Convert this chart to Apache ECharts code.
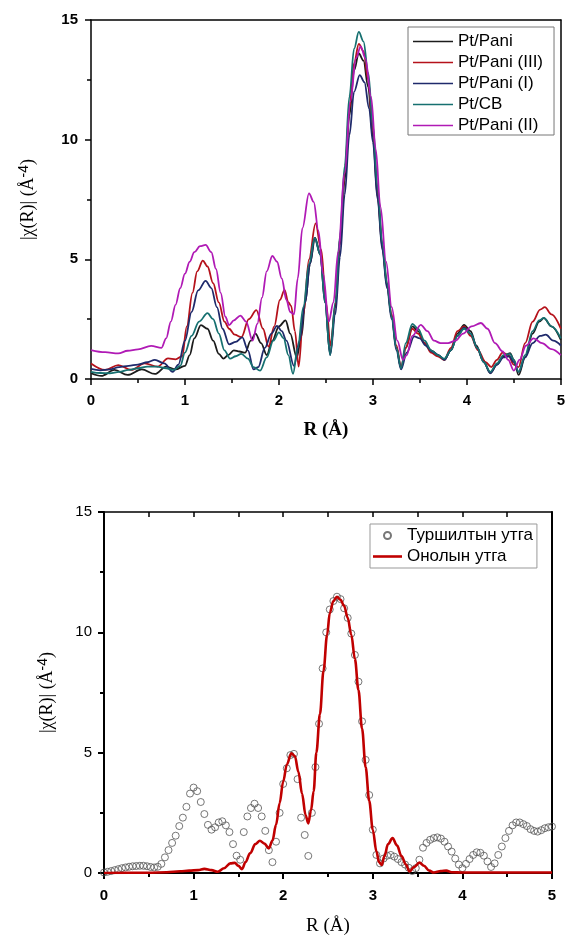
<!DOCTYPE html>
<html>
<head>
<meta charset="utf-8">
<script src="https://cdn.jsdelivr.net/npm/echarts@6/dist/echarts.min.js"></script>
<style>
html,body{margin:0;padding:0;background:#fff;}
#c{width:568px;height:938px;}
</style>
</head>
<body>
<div id="c"></div>
<script>
// ---- Top chart: |chi(R)| for five samples ----
const seriesNamesTop = ['Pt/Pani', 'Pt/Pani (III)', 'Pt/Pani (I)', 'Pt/CB', 'Pt/Pani (II)'];

const ptPani = [[0,0.24],[0.11,0.13],[0.25,0.38],[0.39,0.17],[0.54,0.4],[0.68,0.21],[0.8,0.52],[0.9,0.4],[1.0,0.55],[1.05,1.0],[1.1,1.7],[1.17,2.25],[1.24,2.1],[1.3,1.6],[1.36,1.05],[1.41,0.85],[1.46,1.0],[1.52,1.2],[1.58,1.15],[1.64,1.1],[1.7,1.6],[1.75,1.9],[1.81,1.5],[1.87,1.0],[1.93,1.6],[2.0,2.2],[2.07,2.45],[2.12,1.9],[2.19,0.9],[2.24,1.8],[2.28,3.2],[2.33,4.8],[2.385,5.9],[2.44,5.2],[2.49,3.3],[2.545,1.07],[2.6,3.0],[2.65,5.6],[2.7,8.3],[2.75,11.0],[2.8,12.9],[2.85,13.6],[2.9,13.3],[2.95,12.2],[3.0,10.1],[3.05,7.6],[3.1,5.5],[3.15,3.9],[3.2,2.6],[3.25,1.3],[3.3,0.45],[3.35,1.3],[3.42,2.2],[3.48,2.0],[3.55,1.5],[3.62,1.2],[3.69,1.0],[3.76,0.8],[3.83,1.2],[3.9,1.9],[3.97,2.26],[4.04,2.0],[4.1,1.4],[4.17,0.8],[4.25,0.24],[4.32,0.6],[4.39,0.95],[4.46,1.08],[4.5,0.8],[4.55,0.17],[4.62,0.9],[4.7,1.9],[4.77,2.4],[4.82,2.54],[4.9,2.2],[5.0,1.63]];

const ptPani3 = [[0,0.65],[0.15,0.38],[0.29,0.58],[0.43,0.38],[0.57,0.65],[0.71,0.52],[0.82,0.86],[0.9,0.82],[0.97,0.95],[1.02,2.2],[1.08,3.6],[1.13,4.5],[1.19,4.95],[1.24,4.7],[1.3,4.0],[1.36,3.2],[1.42,2.4],[1.47,2.1],[1.53,1.85],[1.6,1.75],[1.68,2.5],[1.76,2.88],[1.83,2.1],[1.89,1.35],[1.95,2.2],[2.01,3.3],[2.06,3.72],[2.1,3.2],[2.13,3.05],[2.17,2.0],[2.21,0.52],[2.26,2.7],[2.32,5.0],[2.39,6.5],[2.45,5.4],[2.5,3.2],[2.55,1.4],[2.6,3.1],[2.65,5.9],[2.7,8.6],[2.75,11.3],[2.8,13.2],[2.85,14.0],[2.9,13.7],[2.95,12.5],[3.0,10.4],[3.05,7.8],[3.1,5.6],[3.15,4.0],[3.2,2.7],[3.25,1.4],[3.3,0.5],[3.35,1.3],[3.42,2.1],[3.48,1.9],[3.55,1.5],[3.62,1.1],[3.69,0.95],[3.76,0.8],[3.83,1.3],[3.9,2.0],[3.97,2.2],[4.04,1.8],[4.12,1.2],[4.2,0.7],[4.26,0.5],[4.32,0.8],[4.38,1.1],[4.44,1.0],[4.5,0.6],[4.55,0.5],[4.62,1.5],[4.7,2.4],[4.78,2.9],[4.83,3.0],[4.9,2.7],[5.0,2.1]];

const ptPani1 = [[0,0.42],[0.1,0.36],[0.2,0.4],[0.3,0.5],[0.4,0.55],[0.5,0.6],[0.6,0.7],[0.68,0.8],[0.78,0.65],[0.87,0.3],[0.93,0.6],[1.0,1.6],[1.07,2.8],[1.14,3.7],[1.22,4.1],[1.28,3.8],[1.34,3.0],[1.4,2.1],[1.47,1.45],[1.54,1.55],[1.61,1.74],[1.67,1.2],[1.73,0.4],[1.78,0.5],[1.85,1.3],[1.92,1.9],[1.98,2.22],[2.03,2.0],[2.08,1.6],[2.16,0.55],[2.22,1.6],[2.28,3.2],[2.33,4.8],[2.38,5.9],[2.44,5.2],[2.49,3.2],[2.545,1.0],[2.6,2.7],[2.65,5.1],[2.7,7.7],[2.75,10.2],[2.8,12.0],[2.86,12.7],[2.91,12.4],[2.96,11.3],[3.0,9.9],[3.05,7.5],[3.1,5.4],[3.15,3.8],[3.2,2.5],[3.25,1.2],[3.3,0.4],[3.36,1.1],[3.44,1.78],[3.5,1.7],[3.56,1.4],[3.63,1.15],[3.7,1.0],[3.76,0.8],[3.83,1.2],[3.9,1.8],[3.97,2.15],[4.04,1.9],[4.11,1.3],[4.18,0.7],[4.25,0.25],[4.32,0.6],[4.39,0.9],[4.45,0.95],[4.5,0.7],[4.55,0.3],[4.62,0.9],[4.7,1.5],[4.78,1.8],[4.84,1.85],[4.92,1.6],[5.0,1.4]];

const ptCB = [[0,0.3],[0.1,0.25],[0.2,0.24],[0.3,0.3],[0.4,0.38],[0.5,0.45],[0.6,0.52],[0.7,0.52],[0.8,0.45],[0.88,0.38],[0.95,0.55],[1.0,1.1],[1.07,1.8],[1.15,2.4],[1.24,2.75],[1.3,2.5],[1.36,1.9],[1.42,1.2],[1.48,0.85],[1.54,0.95],[1.6,1.05],[1.67,0.85],[1.73,0.5],[1.8,0.35],[1.87,0.9],[1.94,1.6],[2.0,1.95],[2.05,1.7],[2.1,1.0],[2.15,0.22],[2.2,1.3],[2.26,3.0],[2.32,4.8],[2.38,5.9],[2.44,5.2],[2.49,3.2],[2.545,1.0],[2.6,3.2],[2.65,6.0],[2.7,8.9],[2.75,11.8],[2.8,13.8],[2.85,14.5],[2.9,14.1],[2.95,12.8],[3.0,10.6],[3.05,8.0],[3.1,5.7],[3.15,4.0],[3.2,2.6],[3.25,1.3],[3.3,0.45],[3.35,1.5],[3.42,2.3],[3.48,2.1],[3.55,1.6],[3.62,1.2],[3.69,1.0],[3.76,0.85],[3.83,1.2],[3.9,1.8],[3.97,2.1],[4.04,1.9],[4.11,1.3],[4.18,0.7],[4.25,0.3],[4.32,0.65],[4.39,1.0],[4.46,1.05],[4.5,0.8],[4.55,0.3],[4.62,1.0],[4.7,2.0],[4.77,2.45],[4.82,2.55],[4.9,2.2],[5.0,1.7]];

const ptPani2 = [[0,1.21],[0.15,1.12],[0.29,1.07],[0.39,1.18],[0.5,1.24],[0.64,1.38],[0.75,1.3],[0.8,1.7],[0.85,2.4],[0.9,3.1],[0.95,3.8],[1.0,4.4],[1.05,4.9],[1.1,5.3],[1.16,5.55],[1.22,5.6],[1.28,5.3],[1.33,4.6],[1.38,3.6],[1.43,2.6],[1.47,2.25],[1.52,2.45],[1.59,2.65],[1.65,2.4],[1.72,1.6],[1.77,2.3],[1.82,3.4],[1.87,4.5],[1.93,5.14],[1.98,4.9],[2.03,4.2],[2.08,3.3],[2.12,2.8],[2.16,2.7],[2.2,4.2],[2.25,6.3],[2.32,7.76],[2.37,7.4],[2.42,6.2],[2.47,4.4],[2.53,2.4],[2.58,3.2],[2.63,5.3],[2.7,8.6],[2.76,11.6],[2.82,13.4],[2.87,13.9],[2.92,13.4],[2.98,11.8],[3.03,9.6],[3.08,7.2],[3.14,4.9],[3.2,3.0],[3.26,1.6],[3.32,0.8],[3.36,1.0],[3.42,1.8],[3.51,2.26],[3.58,2.0],[3.65,1.6],[3.72,1.5],[3.8,1.5],[3.88,1.6],[3.96,1.9],[4.05,2.2],[4.15,2.34],[4.22,2.1],[4.3,1.5],[4.38,1.15],[4.44,0.8],[4.5,0.35],[4.56,0.8],[4.63,1.4],[4.71,1.7],[4.8,1.5],[4.9,1.25],[5.0,1.0]];

const colorsTop = ['#1c1c1c', '#b5121b', '#1f2a6b', '#167070', '#b01ab5'];

// ---- Bottom chart: experiment vs theory ----
const seriesNamesBottom = ['Туршилтын утга', 'Онолын утга'];

const expR = [0.00,0.04,0.08,0.12,0.16,0.20,0.24,0.28,0.32,0.36,0.40,0.44,0.48,0.52,0.56,0.60,0.64,0.68,0.72,0.76,0.80,0.84,0.88,0.92,0.96,1.00,1.04,1.08,1.12,1.16,1.20,1.24,1.28,1.32,1.36,1.40,1.44,1.48,1.52,1.56,1.60,1.64,1.68,1.72,1.76,1.80,1.84,1.88,1.92,1.96,2.00,2.04,2.08,2.12,2.16,2.20,2.24,2.28,2.32,2.36,2.40,2.44,2.48,2.52,2.56,2.60,2.64,2.68,2.72,2.76,2.80,2.84,2.88,2.92,2.96,3.00,3.04,3.08,3.12,3.16,3.20,3.24,3.28,3.32,3.36,3.40,3.44,3.48,3.52,3.56,3.60,3.64,3.68,3.72,3.76,3.80,3.84,3.88,3.92,3.96,4.00,4.04,4.08,4.12,4.16,4.20,4.24,4.28,4.32,4.36,4.40,4.44,4.48,4.52,4.56,4.60,4.64,4.68,4.72,4.76,4.80,4.84,4.88,4.92,4.96,5.00];
const expChi = [0.02,0.05,0.08,0.12,0.16,0.2,0.23,0.26,0.28,0.29,0.3,0.3,0.28,0.25,0.23,0.26,0.38,0.65,0.95,1.25,1.55,1.95,2.3,2.75,3.3,3.55,3.4,2.95,2.45,2.0,1.8,1.9,2.1,2.15,1.98,1.7,1.2,0.72,0.55,1.7,2.35,2.7,2.88,2.7,2.35,1.75,0.95,0.45,1.3,2.5,3.7,4.35,4.9,4.95,3.9,2.3,1.58,0.71,2.5,4.4,6.2,8.5,10.0,10.95,11.3,11.48,11.38,11.0,10.6,9.95,9.06,7.95,6.3,4.7,3.24,1.8,0.75,0.4,0.6,0.72,0.75,0.68,0.58,0.45,0.35,0.22,0.08,0.2,0.55,1.05,1.25,1.38,1.45,1.48,1.43,1.3,1.1,0.89,0.6,0.35,0.2,0.38,0.58,0.75,0.86,0.84,0.72,0.48,0.25,0.4,0.75,1.1,1.45,1.75,1.98,2.1,2.1,2.03,1.95,1.82,1.75,1.72,1.78,1.86,1.9,1.93];

const fitData = [[0,0],[0.5,0.01],[0.7,0.03],[0.85,0.07],[0.95,0.1],[1.05,0.12],[1.12,0.17],[1.2,0.12],[1.27,0.05],[1.34,0.2],[1.41,0.4],[1.46,0.42],[1.5,0.3],[1.54,0.16],[1.58,0.45],[1.63,0.82],[1.69,1.2],[1.74,1.34],[1.79,1.22],[1.84,1.02],[1.88,1.35],[1.92,2.0],[1.96,2.9],[2.0,3.8],[2.04,4.5],[2.09,4.97],[2.13,4.86],[2.17,4.2],[2.21,3.3],[2.25,2.4],[2.28,2.06],[2.31,2.6],[2.34,3.4],[2.37,5.0],[2.41,6.6],[2.45,8.4],[2.49,9.9],[2.52,10.8],[2.56,11.3],[2.6,11.48],[2.64,11.35],[2.68,11.1],[2.72,10.6],[2.76,9.9],[2.8,8.9],[2.84,7.6],[2.88,6.0],[2.92,4.4],[2.96,3.0],[3.0,1.8],[3.04,0.9],[3.07,0.45],[3.1,0.33],[3.13,0.7],[3.17,1.2],[3.22,1.45],[3.27,1.15],[3.32,0.7],[3.37,0.35],[3.41,0.06],[3.46,0.25],[3.52,0.43],[3.57,0.3],[3.63,0.1],[3.68,0.02],[3.76,0.08],[3.82,0.1],[3.88,0.03],[4.0,0.02],[4.5,0.02],[5.0,0.02]];

const xTicks = [0, 1, 2, 3, 4, 5];
const yTicks = [0, 5, 10, 15];

const SANS = 'Liberation Sans, Arial, sans-serif';
const SERIF = 'Liberation Serif, Times New Roman, serif';

const expData = expR.map((r, i) => [r, expChi[i]]);

const yName = '{a||χ(R)| (Å}{b|-4}{a|)}';
const yNameRich = {
  a: { fontFamily: SERIF, fontSize: 18, color: '#000', lineHeight: 22 },
  b: { fontFamily: SANS, fontSize: 14, color: '#000', verticalAlign: 'top', lineHeight: 14 }
};

function xAxisMain(grid, bold, labelMargin, nameGap, lw, nameBold) {
  return {
    type: 'value', gridIndex: grid, min: xTicks[0], max: xTicks[xTicks.length - 1], interval: 1,
    position: 'bottom',
    axisLine: { onZero: false, lineStyle: { color: '#000', width: lw } },
    axisTick: { show: true, inside: false, length: 6, lineStyle: { color: '#000', width: lw } },
    minorTick: { show: true, splitNumber: 2, length: 4, lineStyle: { color: '#000', width: lw } },
    splitLine: { show: false },
    axisLabel: { color: '#000', fontFamily: SANS, fontSize: 15, fontWeight: bold ? 'bold' : 'normal', margin: labelMargin },
    name: 'R (Å)', nameLocation: 'middle', nameGap: nameGap,
    nameTextStyle: { fontFamily: SERIF, fontSize: 19, fontWeight: nameBold ? 'bold' : 'normal', color: '#000' }
  };
}
function yAxisMain(grid, bold, labelMargin, nameGap, lw) {
  return {
    type: 'value', gridIndex: grid, min: yTicks[0], max: yTicks[yTicks.length - 1], interval: 5,
    position: 'left',
    axisLine: { onZero: false, lineStyle: { color: '#000', width: lw } },
    axisTick: { show: true, inside: false, length: 6, lineStyle: { color: '#000', width: lw } },
    minorTick: { show: true, splitNumber: 2, length: 4, lineStyle: { color: '#000', width: lw } },
    splitLine: { show: false },
    axisLabel: { color: '#000', fontFamily: SANS, fontSize: 15, fontWeight: bold ? 'bold' : 'normal', margin: labelMargin },
    name: yName, nameLocation: 'middle', nameGap: nameGap, nameRotate: 90,
    nameTextStyle: { rich: yNameRich }
  };
}

const chart = echarts.init(document.getElementById('c'), null, { renderer: 'canvas' });

const topSeries = [ptPani, ptPani3, ptPani1, ptCB, ptPani2].map((d, i) => ({
  name: seriesNamesTop[i], type: 'line', xAxisIndex: 0, yAxisIndex: 0,
  data: d, smooth: 0.35, smoothMonotone: 'x', symbol: 'none',
  lineStyle: { color: colorsTop[i], width: 1.8 }, itemStyle: { color: colorsTop[i] }
}));

const lineIcon = 'path://M0,0h40v1.6h-40z';

chart.setOption({
  animation: false,
  backgroundColor: '#fff',
  grid: [
    { left: 91, top: 20, width: 473, height: 359 },
    { left: 104, top: 512, width: 448, height: 361 }
  ],
  xAxis: [
    xAxisMain(0, true, 14, 42, 1.5, true),
    { type: 'value', gridIndex: 0, position: 'top', min: 0, max: 5, interval: 1,
      axisLine: { onZero: false, lineStyle: { color: '#000', width: 1.5 } },
      axisTick: { show: false }, axisLabel: { show: false }, splitLine: { show: false } },
    xAxisMain(1, true, 15, 44, 2, false),
    { type: 'value', gridIndex: 1, position: 'top', min: 0, max: 5, interval: 0.5,
      axisLine: { onZero: false, lineStyle: { color: '#000', width: 1.5 } },
      axisTick: { show: true, inside: true, length: 5, lineStyle: { color: '#000', width: 1.5 } },
      axisLabel: { show: false }, splitLine: { show: false } }
  ],
  yAxis: [
    yAxisMain(0, true, 13, 52, 1.5),
    { type: 'value', gridIndex: 0, position: 'right', min: 0, max: 15,
      axisLine: { show: true, onZero: false, lineStyle: { color: '#000', width: 1.5 } },
      axisTick: { show: false }, axisLabel: { show: false }, splitLine: { show: false } },
    yAxisMain(1, false, 12, 46, 2),
    { type: 'value', gridIndex: 1, position: 'right', min: 0, max: 15,
      axisLine: { show: true, onZero: false, lineStyle: { color: '#000', width: 2 } },
      axisTick: { show: false }, axisLabel: { show: false }, splitLine: { show: false } }
  ],
  legend: [
    {
      data: seriesNamesTop.map(n => ({ name: n, icon: lineIcon })),
      orient: 'vertical', left: 408, top: 27,
      itemWidth: 40, itemHeight: 14, itemGap: 4, symbolKeepAspect: true,
      padding: [6, 11, 1, 5], borderColor: '#777', borderWidth: 1, borderRadius: 0,
      backgroundColor: '#fff',
      textStyle: { fontFamily: SANS, fontSize: 17, color: '#000' }
    },
    {
      data: [
        { name: seriesNamesBottom[0], icon: 'circle' },
        { name: seriesNamesBottom[1], icon: 'path://M0,0h29v2.6h-29z' }
      ],
      orient: 'vertical', left: 370, top: 524,
      itemWidth: 29, itemHeight: 7, itemGap: 4, symbolKeepAspect: true,
      padding: [3, 4, 3, 3], borderColor: '#999', borderWidth: 1, borderRadius: 0,
      backgroundColor: '#fff',
      textStyle: { fontFamily: SANS, fontSize: 17, color: '#000' }
    }
  ],
  series: topSeries.concat([
    {
      name: seriesNamesBottom[0], type: 'scatter', xAxisIndex: 2, yAxisIndex: 2,
      data: expData, symbol: 'circle', symbolSize: 7,
      itemStyle: { color: 'rgba(255,255,255,0)', borderColor: '#555', borderWidth: 1 },
      z: 2
    },
    {
      name: seriesNamesBottom[1], type: 'line', xAxisIndex: 2, yAxisIndex: 2,
      data: fitData, smooth: 0.35, smoothMonotone: 'x', symbol: 'none',
      lineStyle: { color: '#c00000', width: 2.6 }, itemStyle: { color: '#c00000' },
      z: 3
    }
  ])
});
</script>
</body>
</html>
